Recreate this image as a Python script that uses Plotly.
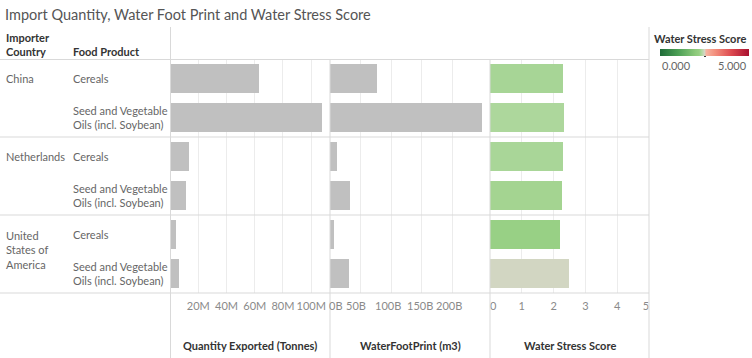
import plotly.graph_objects as go

W, H = 752, 358

countries = ["China", "China", "Netherlands", "Netherlands",
             "United States of America", "United States of America"]
country_labels = ["China", "Netherlands", "United<br>States of<br>America"]
products = ["Cereals", "Seed and Vegetable<br>Oils (incl. Soybean)"] * 3
quantity = [63.2e6, 107.6e6, 13.7e6, 11.3e6, 4.5e6, 6.6e6]
water_fp = [76.5e9, 249e9, 11.5e9, 33.3e9, 6.6e9, 31e9]
wss = [2.29, 2.32, 2.30, 2.27, 2.21, 2.49]

FS = "\u2007"  # figure space used to nudge tick labels like the original
q_ticks = [20e6, 40e6, 60e6, 80e6, 100e6]
q_text = ["20M", "40M", "60M", "80M", "100M"]
w_ticks = [0, 50e9, 100e9, 150e9, 200e9]
w_text = ["0B", "50B", "100B", "150B", "200B"]
w_label_shift = [6, -5, -3, -2, -3]
s_ticks = [0, 1, 2, 3, 4, 5]
s_text = [FS + "0", "1", "2", "3", "4", "5" + FS]

rows = list(range(len(products)))

FONT = "Lato"
GRID = "#ececec"
SEP = "#d9d9d9"
BAR = "#c0c0c0"
TICKC = "#8a8a8a"

colorscale = [
    [0.0, "#1f6b38"], [0.2, "#4b9f55"], [0.4, "#8dca7b"], [0.44, "#96cf83"],
    [0.47, "#b3d9a2"], [0.5, "#d4d6c4"], [0.52, "#f6b3a0"], [0.62, "#f38f7d"],
    [0.8, "#dd4a50"], [1.0, "#a8102f"],
]

def px(x):
    return x / W

def py(y):
    return 1 - y / H

fig = go.Figure()
fig.add_trace(go.Bar(x=quantity, y=rows, orientation="h", width=0.75,
                     marker=dict(color=BAR, line_width=0), xaxis="x", yaxis="y",
                     hoverinfo="x"))
fig.add_trace(go.Bar(x=water_fp, y=rows, orientation="h", width=0.75,
                     marker=dict(color=BAR, line_width=0), xaxis="x2", yaxis="y2",
                     hoverinfo="x"))
fig.add_trace(go.Bar(x=wss, y=rows, orientation="h", width=0.75,
                     marker=dict(color=wss, colorscale=colorscale, cmin=0, cmax=5,
                                 line_width=0, showscale=True,
                                 colorbar=dict(orientation="h", x=px(704.5), xanchor="center",
                                               y=py(49), yanchor="top", len=89, lenmode="pixels",
                                               thickness=7, outlinewidth=0, xpad=0, ypad=0,
                                               showticklabels=False, ticks="")),
                     xaxis="x3", yaxis="y3", hoverinfo="x"))

ydom = [py(293), py(59)]
tickfont = dict(family=FONT, size=11, color=TICKC)
common_x = dict(showgrid=True, gridcolor=GRID, gridwidth=1, zeroline=False, showline=False,
                ticks="", tickfont=tickfont, fixedrange=True, tickmode="array", tickangle=0,
                automargin=False, ticklabelstandoff=5)
common_y = dict(range=[5.5, -0.5], showticklabels=False, showgrid=False, zeroline=False,
                showline=False, ticks="", fixedrange=True, automargin=False)

fig.update_layout(
    width=W, height=H, margin=dict(l=0, r=0, t=0, b=0, autoexpand=False),
    paper_bgcolor="white", plot_bgcolor="white", showlegend=False, bargap=0,
    font=dict(family=FONT, size=11, color="#666"),
    xaxis=dict(domain=[px(170), px(330)], range=[0, 113.3e6], tickvals=q_ticks, ticktext=q_text,
               anchor="y", **common_x),
    xaxis2=dict(domain=[px(330), px(490)], range=[0, 262.3e9], tickvals=w_ticks, ticktext=w_text,
                anchor="y2", showticklabels=False, **common_x),
    xaxis3=dict(domain=[px(490), px(649)], range=[0, 5.0], tickvals=s_ticks,
                ticktext=s_text, anchor="y3", **common_x),
    yaxis=dict(domain=ydom, anchor="x", **common_y),
    yaxis2=dict(domain=ydom, anchor="x2", **common_y),
    yaxis3=dict(domain=ydom, anchor="x3", **common_y),
)

shapes = []
def hline(y, x0=0, x1=649, color=SEP):
    shapes.append(dict(type="line", xref="paper", yref="paper", x0=px(x0), x1=px(x1),
                       y0=py(y), y1=py(y), line=dict(color=color, width=1)))
def vline(x, y0, y1, color=SEP):
    shapes.append(dict(type="line", xref="paper", yref="paper", x0=px(x), x1=px(x),
                       y0=py(y0), y1=py(y1), line=dict(color=color, width=1)))

hline(59.5)
for i in range(1, len(countries)):
    if countries[i] != countries[i - 1]:
        shapes.append(dict(type="line", xref="paper", yref="y", x0=0, x1=px(649),
                           y0=i - 0.5, y1=i - 0.5, line=dict(color=SEP, width=1)))
hline(293)
vline(170.5, 27, 358)
vline(330, 59, 358)
vline(490, 59, 358)
vline(649, 27, 358)
shapes.append(dict(type="rect", xref="paper", yref="paper", x0=px(704), x1=px(706),
                   y0=py(57), y1=py(55), fillcolor="#333", line_width=0))
fig.update_layout(shapes=shapes)

ann = []
ann.append(dict(text="Import Quantity, Water Foot Print and Water Stress Score", xref="paper", yref="paper",
                x=px(3), y=py(14), xanchor="left", yanchor="middle", showarrow=False,
                font=dict(family=FONT, size=14.5, color="#555")))
hdr = dict(family=FONT, size=11, color="#333")
ann.append(dict(text="<b>Importer</b><br><b>Country</b>", xref="paper", yref="paper", x=px(4), y=py(44.5),
                xanchor="left", yanchor="middle", align="left", showarrow=False, font=hdr))
ann.append(dict(text="<b>Food Product</b>", xref="paper", yref="paper", x=px(71), y=py(51.5),
                xanchor="left", yanchor="middle", showarrow=False, font=hdr))

lbl = dict(family=FONT, size=11, color="#666")
seen = []
for i, c in enumerate(countries):
    if c not in seen:
        seen.append(c)
        text = country_labels[len(seen) - 1]
        nlines = text.count("<br>") + 1
        if nlines == 1:
            ann.append(dict(text=text, xref="paper", yref="y", x=px(4), y=i, xanchor="left",
                            yanchor="middle", align="left", showarrow=False, font=lbl))
        else:
            ann.append(dict(text=text, xref="paper", yref="y", x=px(4), y=i, xanchor="left",
                            yanchor="top", yshift=8, align="left", showarrow=False, font=lbl))
for i, p in enumerate(products):
    ann.append(dict(text=p, xref="paper", yref="y", x=px(71), y=i, xanchor="left",
                    yanchor="middle", align="left", showarrow=False, font=lbl))

for v, t, s in zip(w_ticks, w_text, w_label_shift):
    ann.append(dict(text=t, xref="x2", yref="paper", x=v, y=py(305), xshift=s,
                    xanchor="center", yanchor="middle", showarrow=False,
                    font=dict(family=FONT, size=11, color=TICKC)))

titles = [("x domain", "Quantity Exported (Tonnes)"), ("x2 domain", "WaterFootPrint (m3)"),
          ("x3 domain", "Water Stress Score")]
for ref, t in titles:
    ann.append(dict(text="<b>" + t + "</b>", xref=ref, yref="paper", x=0.5, y=py(345),
                    xanchor="center", yanchor="middle", showarrow=False, font=hdr))

ann.append(dict(text="<b>Water Stress Score</b>", xref="paper", yref="paper", x=px(748), y=py(38.5),
                xanchor="right", yanchor="middle", showarrow=False, font=hdr))
ann.append(dict(text="0.000", xref="paper", yref="paper", x=px(660), y=py(65),
                xanchor="left", yanchor="middle", showarrow=False, font=lbl))
ann.append(dict(text="5.000", xref="paper", yref="paper", x=px(749), y=py(65),
                xanchor="right", yanchor="middle", showarrow=False, font=lbl))
fig.update_layout(annotations=ann)

fig.write_html("out.html", config={"displayModeBar": False},
               post_script="document.body.style.margin='0px';document.body.style.overflow='hidden';")
